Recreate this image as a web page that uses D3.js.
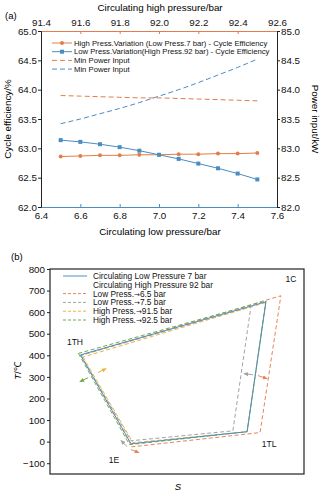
<!DOCTYPE html>
<html>
<head>
<meta charset="utf-8">
<script src="https://cdn.jsdelivr.net/npm/d3@7"></script>
<style>
  body { margin: 0; background: #fff; }
  svg { font-family: "Liberation Sans", Arial, sans-serif; }
</style>
</head>
<body>
<svg id="chart" width="322" height="491"></svg>
<script>
// panel (a) data
const lowP = [6.5, 6.6, 6.7, 6.8, 6.9, 7.0, 7.1, 7.2, 7.3, 7.4, 7.5];
const highP = [91.5, 91.6, 91.7, 91.8, 91.9, 92.0, 92.1, 92.2, 92.3, 92.4, 92.5];
const effHigh = [62.86, 62.87, 62.88, 62.88, 62.89, 62.89, 62.90, 62.90, 62.91, 62.91, 62.92];
const effLow = [63.14, 63.11, 63.07, 63.02, 62.96, 62.89, 62.82, 62.74, 62.66, 62.57, 62.47];
const powHigh = [83.90, 83.89, 83.88, 83.87, 83.86, 83.86, 83.85, 83.84, 83.83, 83.82, 83.81];
const powLow = [83.42, 83.50, 83.59, 83.68, 83.78, 83.89, 84.00, 84.12, 84.25, 84.38, 84.52];
const topTicks = [91.4, 91.6, 91.8, 92.0, 92.2, 92.4, 92.6];
const bottomTicks = [6.4, 6.6, 6.8, 7.0, 7.2, 7.4, 7.6];
const leftTicks = [62.0, 62.5, 63.0, 63.5, 64.0, 64.5, 65.0];
const rightTicks = [82.0, 82.5, 83.0, 83.5, 84.0, 84.5, 85.0];

// panel (b) data: state points 1TH, 1E, 1TL, 1C (S in arbitrary units, T in C)
const cycleS = [
  [1.20, 3.19, 7.76, 8.50],
  [1.22, 3.23, 8.27, 9.09],
  [1.22, 3.19, 7.20, 7.91],
  [1.30, 3.27, 7.76, 8.50],
  [1.12, 3.13, 7.76, 8.50]
];
const cycleT = [
  [402, -10, 46, 648],
  [400, -24, 42, 676],
  [400, 4, 50, 625],
  [392, -5, 46, 645],
  [409, -14, 46, 652]
];
const pointLabels = ["1TH", "1E", "1TL", "1C"];
const tTicks = [-100, 0, 100, 200, 300, 400, 500, 600, 700, 800];
// shift arrows: [s0, t0, s1, t1]
const arrowSeries = [4, 3, 2, 1, 2, 1];
const arrowData = [
  [1.50, 296, 1.18, 278],
  [1.89, 320, 2.20, 338],
  [3.03, -23, 2.80, 5],
  [3.19, -37, 3.50, -51],
  [7.99, 310, 7.64, 315],
  [8.19, 306, 8.54, 292]
];

const orange = "#e27d4c", blue = "#4b8cc2";
const cycColors = ["#4f8fc0", "#e6845a", "#a3a3a3", "#f0b13f", "#6fac4c"];

const svg = d3.select("#chart");

// ---------- panel (a) ----------
let xLow = d3.scaleLinear().domain([6.4, 7.6]).range([41, 277]);
let xHigh = d3.scaleLinear().domain([91.4, 92.6]).range([41, 277]);
let yEff = d3.scaleLinear().domain([62, 65]).range([207, 31]);
let yPow = d3.scaleLinear().domain([82, 85]).range([207, 31]);

let ga = svg.append("g");
const fmt1 = d3.format(".1f");

let axB = ga.append("g").attr("transform", "translate(0,207)")
  .call(d3.axisBottom(xLow).tickValues(bottomTicks).tickFormat(fmt1).tickSize(-3).tickPadding(5));
let axT = ga.append("g").attr("transform", "translate(0,31)")
  .call(d3.axisTop(xHigh).tickValues(topTicks).tickFormat(fmt1).tickSize(-3).tickPadding(5));
let axL = ga.append("g").attr("transform", "translate(41,0)")
  .call(d3.axisLeft(yEff).tickValues(leftTicks).tickFormat(fmt1).tickSize(3).tickPadding(1));
let axR = ga.append("g").attr("transform", "translate(277,0)")
  .call(d3.axisRight(yPow).tickValues(rightTicks).tickFormat(fmt1).tickSize(3).tickPadding(1));

[axB, axT, axL, axR].forEach(a => {
  a.selectAll("text").attr("font-size", 9.8).attr("fill", "#111");
  a.attr("font-family", null);
});
axB.selectAll(".domain, .tick line").attr("stroke", blue);
axT.selectAll(".domain, .tick line").attr("stroke", orange);
axL.selectAll(".domain, .tick line").attr("stroke", "#222");
axR.selectAll(".domain, .tick line").attr("stroke", "#222");

// axis titles
ga.append("text").attr("x", 160).attr("y", 11).attr("text-anchor", "middle")
  .attr("font-size", 9.8).text("Circulating high pressure/bar");
ga.append("text").attr("x", 160).attr("y", 235).attr("text-anchor", "middle")
  .attr("font-size", 9.8).text("Circulating low pressure/bar");
ga.append("text").attr("transform", "translate(11,119) rotate(-90)").attr("text-anchor", "middle")
  .attr("font-size", 9.8).text("Cycle efficiency/%");
ga.append("text").attr("transform", "translate(312,119) rotate(90)").attr("text-anchor", "middle")
  .attr("font-size", 9.8).text("Power input/kW");
ga.append("text").attr("x", 5).attr("y", 19).attr("font-size", 9.5).text("(a)");

// dashed power lines
let idx = d3.range(lowP.length);
ga.append("path").attr("fill", "none").attr("stroke", orange).attr("stroke-width", 1)
  .attr("stroke-dasharray", "5,3")
  .attr("d", d3.line().x(i => xHigh(highP[i])).y(i => yPow(powHigh[i]))(idx));
ga.append("path").attr("fill", "none").attr("stroke", blue).attr("stroke-width", 1)
  .attr("stroke-dasharray", "5,3")
  .attr("d", d3.line().curve(d3.curveMonotoneX).x(i => xLow(lowP[i])).y(i => yPow(powLow[i]))(idx));

// efficiency lines
ga.append("path").attr("fill", "none").attr("stroke", orange).attr("stroke-width", 1)
  .attr("d", d3.line().x(i => xHigh(highP[i])).y(i => yEff(effHigh[i]))(idx));
ga.append("g").selectAll("circle").data(idx).enter().append("circle")
  .attr("cx", i => xHigh(highP[i])).attr("cy", i => yEff(effHigh[i]))
  .attr("r", 2).attr("fill", orange);
ga.append("path").attr("fill", "none").attr("stroke", blue).attr("stroke-width", 1)
  .attr("d", d3.line().x(i => xLow(lowP[i])).y(i => yEff(effLow[i]))(idx));
ga.append("g").selectAll("rect").data(idx).enter().append("rect")
  .attr("x", i => xLow(lowP[i]) - 2).attr("y", i => yEff(effLow[i]) - 2)
  .attr("width", 4).attr("height", 4).attr("fill", blue);

// legend (a)
const legA = [
  {t: "High Press.Variation (Low Press.7 bar) - Cycle Efficiency", c: orange, dash: null, m: "circle"},
  {t: "Low Press.Variation(High Press.92 bar) - Cycle Efficiency", c: blue, dash: null, m: "square"},
  {t: "Min Power Input", c: orange, dash: "5,3", m: null},
  {t: "Min Power Input", c: blue, dash: "5,3", m: null}
];
let lg = ga.append("g").selectAll("g").data(legA).enter().append("g")
  .attr("transform", (d, i) => `translate(0,${43 + i * 8.7})`);
lg.append("line").attr("x1", 52).attr("x2", 72).attr("stroke", d => d.c)
  .attr("stroke-dasharray", d => d.dash);
lg.filter(d => d.m === "circle").append("circle").attr("cx", 62).attr("r", 2).attr("fill", d => d.c);
lg.filter(d => d.m === "square").append("rect").attr("x", 60).attr("y", -2)
  .attr("width", 4).attr("height", 4).attr("fill", d => d.c);
lg.append("text").attr("x", 74).attr("y", 2.7).attr("font-size", 7.7).attr("fill", "#111").text(d => d.t);

// ---------- panel (b) ----------
let xS = d3.scaleLinear().domain([0, 10]).range([50, 304]);
let yT = d3.scaleLinear().domain([-150, 800]).range([474, 269]);

let gb = svg.append("g");
gb.append("rect").attr("x", 50).attr("y", 269).attr("width", 254).attr("height", 205)
  .attr("fill", "none").attr("stroke", "#222").attr("stroke-width", 1.2);
let axTL = gb.append("g").attr("transform", "translate(50,0)")
  .call(d3.axisLeft(yT).tickValues(tTicks).tickFormat(d => d < 0 ? "\u2212" + Math.abs(d) : d)
    .tickSize(3).tickPadding(2));
axTL.attr("font-family", null);
axTL.select(".domain").remove();
axTL.selectAll("text").attr("font-size", 9.8).attr("fill", "#111");
axTL.selectAll(".tick line").attr("stroke", "#222");

gb.append("text").attr("x", 11).attr("y", 260).attr("font-size", 9.5).text("(b)");
gb.append("text").attr("transform", "translate(21,371) rotate(-90)").attr("text-anchor", "middle")
  .attr("font-size", 9.5).html('<tspan font-style="italic">T</tspan>/\u2103');
gb.append("text").attr("x", 178).attr("y", 490).attr("text-anchor", "middle")
  .attr("font-size", 9.5).attr("font-style", "italic").text("S");

// cycles: draw dashed ones then baseline on top
let cyc = [1, 2, 3, 4, 0];
let cycLine = d3.line().x(d => xS(d[0])).y(d => yT(d[1])).curve(d3.curveLinearClosed);
gb.append("g").selectAll("path").data(cyc).enter().append("path")
  .attr("fill", "none")
  .attr("stroke", k => cycColors[k])
  .attr("stroke-width", 1)
  .attr("stroke-dasharray", k => k === 0 ? null : "4,2.5")
  .attr("d", k => cycLine(cycleS[k].map((s, j) => [s, cycleT[k][j]])));

// point labels
const labOff = [[-6, -10], [-18, 16], [9, 14], [10, -14]];
gb.append("g").selectAll("text").data(pointLabels).enter().append("text")
  .attr("x", (d, j) => xS(cycleS[1][j]) + labOff[j][0])
  .attr("y", (d, j) => yT(cycleT[1][j]) + labOff[j][1])
  .attr("text-anchor", "middle").attr("font-size", 8.5).attr("fill", "#111").text(d => d);

// arrows
let defs = svg.append("defs");
cycColors.forEach((c, k) => {
  defs.append("marker").attr("id", "ah" + k).attr("viewBox", "0 0 6 6")
    .attr("refX", 5).attr("refY", 3).attr("markerWidth", 5).attr("markerHeight", 5)
    .attr("orient", "auto")
    .append("path").attr("d", "M0,0.5 L6,3 L0,5.5 Z").attr("fill", c);
});
gb.append("g").selectAll("line").data(arrowData).enter().append("line")
  .attr("x1", d => xS(d[0])).attr("y1", d => yT(d[1]))
  .attr("x2", d => xS(d[2])).attr("y2", d => yT(d[3]))
  .attr("stroke", (d, i) => cycColors[arrowSeries[i]]).attr("stroke-width", 1)
  .attr("marker-end", (d, i) => `url(#ah${arrowSeries[i]})`);

// legend (b); arrow glyph set in DejaVu Sans which has it
const legB = [
  {a: "Circulating Low Pressure 7 bar", b: "", k: 0},
  {a: "Circulating High Pressure 92 bar", b: "", k: -1},
  {a: "Low Press.", b: "6.5 bar", k: 1},
  {a: "Low Press.", b: "7.5 bar", k: 2},
  {a: "High Press.", b: "91.5 bar", k: 3},
  {a: "High Press.", b: "92.5 bar", k: 4}
];
let lgb = gb.append("g").selectAll("g").data(legB).enter().append("g")
  .attr("transform", (d, i) => `translate(0,${276 + i * 8.8})`);
lgb.filter(d => d.k >= 0).append("line").attr("x1", 63).attr("x2", 87)
  .attr("stroke", d => cycColors[d.k])
  .attr("stroke-dasharray", d => d.k === 0 ? null : "3,2");
let lt = lgb.append("text").attr("x", 93).attr("y", 3).attr("font-size", 8.3).attr("fill", "#111");
lt.append("tspan").text(d => d.a);
lt.filter(d => d.b !== "").append("tspan").attr("font-family", "DejaVu Sans").attr("font-size", 7)
  .text("\u2192");
lt.filter(d => d.b !== "").append("tspan").text(d => d.b);
</script>
</body>
</html>
